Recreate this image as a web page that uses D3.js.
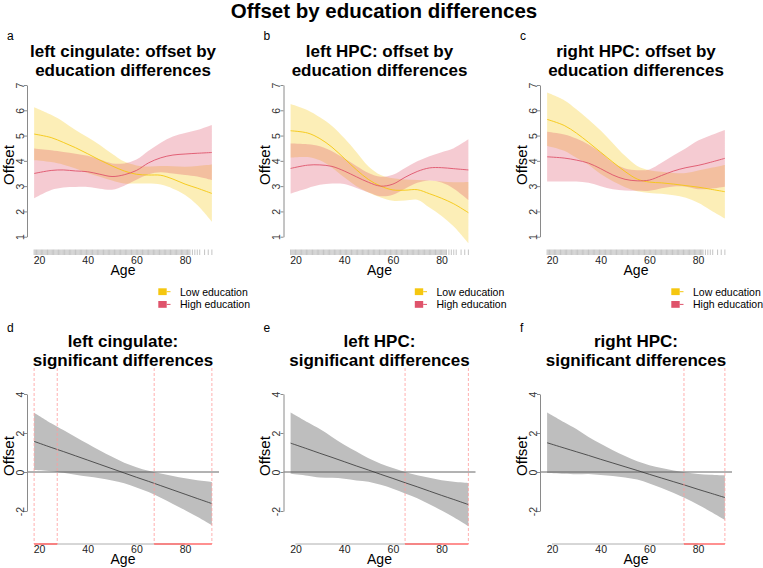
<!DOCTYPE html>
<html>
<head>
<meta charset="utf-8">
<script src="https://cdn.jsdelivr.net/npm/d3@7"></script>
<style>
  body { margin: 0; background: #fff; }
  text { font-family: "Liberation Sans", Arial, Helvetica, sans-serif; }
</style>
</head>
<body>
<svg id="chart" width="763" height="568"></svg>
<script>
var ages = [18, 25, 30, 35, 40, 45, 50, 55, 60, 65, 70, 75, 80, 85, 91];

// left cingulate
var cingLow     = [5.06, 4.92, 4.73, 4.52, 4.28, 4.03, 3.80, 3.60, 3.47, 3.44, 3.43, 3.28, 3.08, 2.92, 2.71];
var cingLowUp   = [6.12, 5.82, 5.55, 5.22, 4.93, 4.63, 4.28, 3.97, 3.82, 3.78, 3.80, 3.79, 3.77, 3.80, 3.86];
var cingLowLo   = [4.02, 3.95, 3.85, 3.70, 3.52, 3.37, 3.22, 3.10, 3.10, 3.10, 3.06, 2.90, 2.65, 2.25, 1.59];
var cingHigh    = [3.50, 3.62, 3.64, 3.60, 3.57, 3.47, 3.38, 3.45, 3.62, 3.92, 4.12, 4.23, 4.27, 4.30, 4.33];
var cingHighUp  = [4.49, 4.42, 4.35, 4.28, 4.20, 4.05, 3.90, 3.90, 4.05, 4.40, 4.72, 4.96, 5.10, 5.22, 5.42];
var cingHighLo  = [2.52, 2.85, 2.95, 2.97, 2.97, 2.90, 2.86, 3.02, 3.25, 3.47, 3.55, 3.50, 3.44, 3.38, 3.24];

// left HPC
var lhpcLow     = [5.19, 5.10, 4.88, 4.54, 4.10, 3.65, 3.26, 3.00, 2.85, 2.84, 2.86, 2.70, 2.52, 2.30, 1.95];
var lhpcLowUp   = [6.25, 6.00, 5.72, 5.38, 4.90, 4.35, 3.78, 3.44, 3.31, 3.26, 3.24, 3.22, 3.18, 3.15, 3.16];
var lhpcLowLo   = [4.13, 4.15, 4.02, 3.73, 3.35, 3.00, 2.75, 2.55, 2.42, 2.43, 2.46, 2.15, 1.82, 1.40, 0.74];
var lhpcHigh    = [3.70, 3.83, 3.84, 3.78, 3.60, 3.37, 3.15, 3.00, 3.08, 3.35, 3.58, 3.72, 3.73, 3.69, 3.64];
var lhpcHighUp  = [4.69, 4.66, 4.58, 4.38, 4.10, 3.80, 3.52, 3.37, 3.45, 3.72, 3.98, 4.18, 4.34, 4.50, 4.85];
var lhpcHighLo  = [2.71, 2.92, 3.05, 3.10, 3.08, 2.93, 2.75, 2.60, 2.66, 2.90, 3.13, 3.22, 3.14, 2.90, 2.45];

// right HPC
var rhpcLow     = [5.64, 5.40, 5.10, 4.73, 4.34, 3.95, 3.58, 3.28, 3.16, 3.13, 3.08, 3.02, 2.96, 2.88, 2.78];
var rhpcLowUp   = [6.70, 6.40, 6.04, 5.64, 5.20, 4.70, 4.20, 3.80, 3.63, 3.57, 3.52, 3.52, 3.62, 3.72, 3.84];
var rhpcLowLo   = [4.59, 4.40, 4.12, 3.85, 3.48, 3.19, 2.96, 2.80, 2.73, 2.70, 2.64, 2.54, 2.34, 2.06, 1.72];
var rhpcHigh    = [4.16, 4.11, 4.03, 3.91, 3.69, 3.44, 3.27, 3.21, 3.24, 3.42, 3.60, 3.73, 3.82, 3.94, 4.10];
var rhpcHighUp  = [5.15, 5.04, 4.88, 4.65, 4.34, 3.93, 3.70, 3.63, 3.66, 3.92, 4.22, 4.50, 4.80, 5.00, 5.22];
var rhpcHighLo  = [3.18, 3.18, 3.18, 3.13, 3.00, 2.88, 2.83, 2.82, 2.82, 2.92, 2.99, 2.98, 2.88, 2.90, 2.98];

// difference smooths (low - high)
var cingDiff    = [1.57, 1.26, 1.05, 0.83, 0.61, 0.39, 0.17, -0.05, -0.27, -0.48, -0.70, -0.92, -1.14, -1.36, -1.62];
var cingDiffUp  = [3.04, 2.50, 2.15, 1.80, 1.45, 1.10, 0.78, 0.48, 0.25, 0.06, -0.08, -0.20, -0.32, -0.42, -0.51];
var cingDiffLo  = [0.10, 0.04, -0.04, -0.14, -0.23, -0.32, -0.44, -0.58, -0.79, -1.02, -1.32, -1.64, -1.96, -2.30, -2.73];
var lhpcDiff    = [1.48, 1.18, 0.96, 0.75, 0.53, 0.31, 0.10, -0.12, -0.33, -0.55, -0.76, -0.98, -1.20, -1.41, -1.67];
var lhpcDiffUp  = [3.05, 2.55, 2.20, 1.80, 1.40, 1.05, 0.70, 0.42, 0.20, 0.00, -0.17, -0.30, -0.42, -0.50, -0.56];
var lhpcDiffLo  = [-0.09, -0.19, -0.28, -0.30, -0.34, -0.43, -0.50, -0.66, -0.86, -1.10, -1.35, -1.66, -1.98, -2.32, -2.78];
var rhpcDiff    = [1.50, 1.23, 1.04, 0.85, 0.65, 0.46, 0.27, 0.08, -0.12, -0.31, -0.50, -0.69, -0.89, -1.08, -1.31];
var rhpcDiffUp  = [3.05, 2.55, 2.20, 1.80, 1.45, 1.12, 0.82, 0.55, 0.35, 0.20, 0.08, -0.02, -0.10, -0.14, -0.17];
var rhpcDiffLo  = [-0.05, -0.09, -0.12, -0.10, -0.15, -0.20, -0.28, -0.39, -0.59, -0.82, -1.08, -1.36, -1.68, -2.02, -2.45];

// age windows where the difference is significant
var cingSig = [[18, 27.5], [67.3, 91]];
var lhpcSig = [[65, 91]];
var rhpcSig = [[74.2, 91]];

// participant ages (rug)
var rugAges = [18, 18.5, 19, 19.5, 20, 20.5, 21, 21.5, 22, 22.5, 23, 23.5, 24, 24.5, 25, 25.5,
  26, 26.5, 27, 27.5, 28, 28.5, 29, 29.5, 30, 30.5, 31, 31.5, 32, 32.5, 33, 33.5, 34, 34.5,
  35, 35.5, 36, 36.5, 37, 37.5, 38, 38.5, 39, 39.5, 40, 40.5, 41, 41.5, 42, 42.5, 43, 43.5,
  44, 44.5, 45, 45.5, 46, 46.5, 47, 47.5, 48, 48.5, 49, 49.5, 50, 50.5, 51, 51.5, 52, 52.5,
  53, 53.5, 54, 54.5, 55, 55.5, 56, 56.5, 57, 57.5, 58, 58.5, 59, 59.5, 60, 60.5, 61, 61.5,
  62, 62.5, 63, 63.5, 64, 64.5, 65, 65.5, 66, 66.5, 67, 67.5, 68, 68.5, 69, 69.5, 70, 70.5,
  71, 71.5, 72, 72.5, 73, 73.5, 74, 74.5, 75, 75.5, 76, 76.5, 77, 77.5, 78, 78.5, 79, 79.5,
  80, 80.5, 81, 81.5, 82, 83, 84, 85, 86, 88, 89.5, 91];

var xTicks = [20, 40, 60, 80];
var topTicks = [1, 2, 3, 4, 5, 6, 7];
var botTicks = [-2, 0, 2, 4];
var legendLabels = ["Low education", "High education"];

var lowCol = "#F5C710", highCol = "#DF536B";

var svg = d3.select("#chart");

svg.append("text")
    .attr("x", 384).attr("y", 18)
    .attr("text-anchor", "middle")
    .style("font-size", "20.5px").style("font-weight", "bold")
    .text("Offset by education differences");

var colX = [0, 256.5, 513];
var plotL = 27, plotW = 192;
var plain = function (d) { return String(d); };

function xScale(col) {
    return d3.scaleLinear().domain([15.08, 93.92]).range([colX[col] + plotL, colX[col] + plotL + plotW]);
}

function rotatedYAxis(g, y, ticks, x0) {
    var ax = g.append("g")
        .attr("transform", "translate(" + x0 + ",0)")
        .call(d3.axisLeft(y).tickValues(ticks).tickFormat(plain).tickSize(3).tickSizeOuter(0));
    ax.selectAll("path, line").attr("stroke", "#8a8a8a");
    ax.selectAll("text")
        .attr("transform", "rotate(-90)")
        .attr("x", 0).attr("y", -3.5).attr("dy", 0)
        .attr("text-anchor", "middle")
        .attr("fill", "#333")
        .style("font-size", "10.5px");
    return ax;
}

function titleLines(g, cx, y1, lines) {
    lines.forEach(function (t, i) {
        g.append("text")
            .attr("x", cx).attr("y", y1 + i * 19.2)
            .attr("text-anchor", "middle")
            .style("font-size", "17px").style("font-weight", "bold")
            .text(t);
    });
}

function drawTop(col, letter, title, low, lowLo, lowUp, high, highLo, highUp) {
    var x = xScale(col);
    var y = d3.scaleLinear().domain([1, 7]).range([236.7, 85]);
    var g = svg.append("g");
    var x0 = colX[col];

    g.append("text").attr("x", x0 + 7).attr("y", 40).style("font-size", "12px").text(letter);
    titleLines(g, x0 + plotL + plotW / 2, 57, title);

    var area = function (lo, up) {
        return d3.area().curve(d3.curveCatmullRom)
            .x(function (d, i) { return x(ages[i]); })
            .y0(function (d, i) { return y(lo[i]); })
            .y1(function (d, i) { return y(up[i]); })(ages);
    };
    var line = function (v) {
        return d3.line().curve(d3.curveCatmullRom)
            .x(function (d, i) { return x(ages[i]); })
            .y(function (d, i) { return y(v[i]); })(ages);
    };

    g.append("path").attr("d", area(lowLo, lowUp)).attr("fill", lowCol).attr("fill-opacity", 0.3);
    g.append("path").attr("d", area(highLo, highUp)).attr("fill", highCol).attr("fill-opacity", 0.3);
    g.append("path").attr("d", line(low)).attr("fill", "none").attr("stroke", lowCol).attr("stroke-width", 0.9);
    g.append("path").attr("d", line(high)).attr("fill", "none").attr("stroke", highCol).attr("stroke-width", 0.9);

    rotatedYAxis(g, y, topTicks, x0 + plotL);

    // rug
    g.selectAll(".rug").data(rugAges).enter().append("line")
        .attr("x1", function (d) { return x(d); }).attr("x2", function (d) { return x(d); })
        .attr("y1", 249.5).attr("y2", 255)
        .attr("stroke", "#9c9c9c").attr("stroke-width", 0.6);

    var xa = g.append("g").attr("transform", "translate(0,255)")
        .call(d3.axisBottom(x).tickValues(xTicks).tickFormat(plain).tickSize(0).tickPadding(1.5));
    xa.select(".domain").remove();
    xa.selectAll("text").attr("fill", "#222").style("font-size", "10.5px");

    g.append("text").attr("x", x0 + plotL + plotW / 2).attr("y", 274.5)
        .attr("text-anchor", "middle").style("font-size", "14px").text("Age");
    g.append("text")
        .attr("transform", "translate(" + (x0 + 13.5) + ",165) rotate(-90)")
        .attr("text-anchor", "middle").style("font-size", "15px").text("Offset");

    // legend
    [lowCol, highCol].forEach(function (c, i) {
        var ly = 288.3 + i * 12.7;
        g.append("rect").attr("x", x0 + 158.3).attr("y", ly).attr("width", 8.4).attr("height", 6.8).attr("fill", c);
        g.append("line").attr("x1", x0 + 166.7).attr("x2", x0 + 170.5)
            .attr("y1", ly + 3.4).attr("y2", ly + 3.4).attr("stroke", c).attr("stroke-width", 1);
        g.append("text").attr("x", x0 + 180).attr("y", ly + 7.2)
            .style("font-size", "10.5px").text(legendLabels[i]);
    });
}

function drawBottom(col, letter, title, diff, lo, up, sig) {
    var x = xScale(col);
    var y = d3.scaleLinear().domain([-2, 4]).range([511, 394]);
    var g = svg.append("g");
    var x0 = colX[col];
    var top = 368, bottom = 544;

    g.append("text").attr("x", x0 + 7).attr("y", 331.5).style("font-size", "12px").text(letter);
    titleLines(g, x0 + plotL + plotW / 2, 346.8, title);

    g.append("path")
        .attr("d", d3.area().curve(d3.curveCatmullRom)
            .x(function (d, i) { return x(ages[i]); })
            .y0(function (d, i) { return y(lo[i]); })
            .y1(function (d, i) { return y(up[i]); })(ages))
        .attr("fill", "#BEBEBE");

    g.append("line").attr("x1", x0 + plotL).attr("x2", x0 + plotL + plotW)
        .attr("y1", y(0)).attr("y2", y(0)).attr("stroke", "#555").attr("stroke-width", 0.9);

    g.append("path")
        .attr("d", d3.line().curve(d3.curveCatmullRom)
            .x(function (d, i) { return x(ages[i]); })
            .y(function (d, i) { return y(diff[i]); })(ages))
        .attr("fill", "none").attr("stroke", "#333").attr("stroke-width", 0.8);

    rotatedYAxis(g, y, botTicks, x0 + plotL);

    var xa = g.append("g").attr("transform", "translate(0," + bottom + ")")
        .call(d3.axisBottom(x).tickValues(xTicks).tickFormat(plain).tickSize(0).tickPadding(2));
    xa.select(".domain").remove();
    xa.selectAll("text").attr("fill", "#222").style("font-size", "10.5px");
    g.append("line").attr("x1", x(xTicks[0])).attr("x2", x(xTicks[xTicks.length - 1]))
        .attr("y1", bottom).attr("y2", bottom).attr("stroke", "#9a9a9a").attr("stroke-width", 0.8);

    sig.forEach(function (s) {
        s.forEach(function (a) {
            g.append("line").attr("x1", x(a)).attr("x2", x(a)).attr("y1", top).attr("y2", bottom)
                .attr("stroke", "#FF9C9C").attr("stroke-width", 0.8).attr("stroke-dasharray", "3,2");
        });
        g.append("line").attr("x1", x(s[0])).attr("x2", x(s[1])).attr("y1", bottom).attr("y2", bottom)
            .attr("stroke", "#FF6B6B").attr("stroke-width", 1.6);
    });

    g.append("text").attr("x", x0 + plotL + plotW / 2).attr("y", 564)
        .attr("text-anchor", "middle").style("font-size", "14px").text("Age");
    g.append("text")
        .attr("transform", "translate(" + (x0 + 13.5) + ",456) rotate(-90)")
        .attr("text-anchor", "middle").style("font-size", "15px").text("Offset");
}

drawTop(0, "a", ["left cingulate: offset by", "education differences"],
    cingLow, cingLowLo, cingLowUp, cingHigh, cingHighLo, cingHighUp);
drawTop(1, "b", ["left HPC: offset by", "education differences"],
    lhpcLow, lhpcLowLo, lhpcLowUp, lhpcHigh, lhpcHighLo, lhpcHighUp);
drawTop(2, "c", ["right HPC: offset by", "education differences"],
    rhpcLow, rhpcLowLo, rhpcLowUp, rhpcHigh, rhpcHighLo, rhpcHighUp);

drawBottom(0, "d", ["left cingulate:", "significant differences"], cingDiff, cingDiffLo, cingDiffUp, cingSig);
drawBottom(1, "e", ["left HPC:", "significant differences"], lhpcDiff, lhpcDiffLo, lhpcDiffUp, lhpcSig);
drawBottom(2, "f", ["right HPC:", "significant differences"], rhpcDiff, rhpcDiffLo, rhpcDiffUp, rhpcSig);
</script>
</body>
</html>
